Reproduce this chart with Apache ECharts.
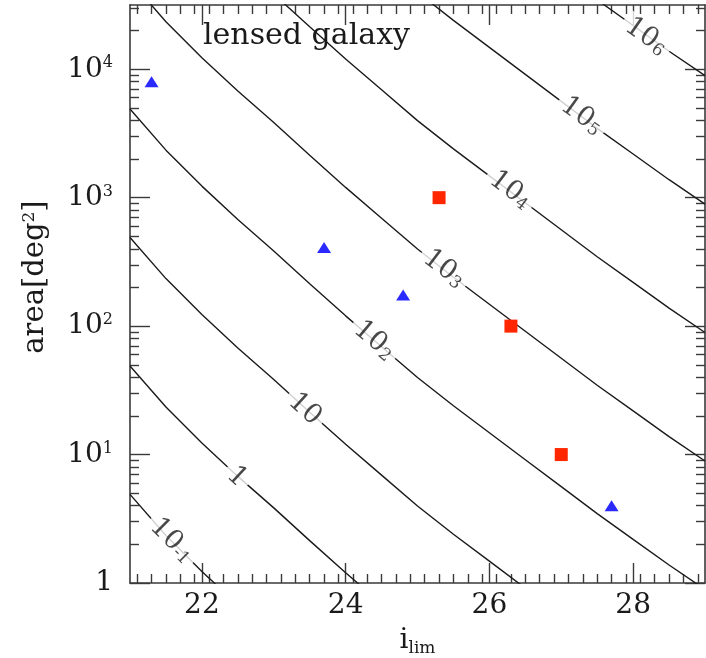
<!DOCTYPE html>
<html><head><meta charset="utf-8">
<script src="https://cdn.jsdelivr.net/npm/echarts@6/dist/echarts.min.js"></script>
<style>html,body{margin:0;padding:0;background:#fff}#c{width:706px;height:658px}</style>
</head><body><div id="c"></div>
<script>
// ---- data ----
const iLimGrid = [21, 21.5, 22, 22.5, 23, 23.5, 24, 24.5, 25, 25.5, 26, 26.5, 27, 27.5, 28, 28.5, 29];
// area [deg^2] along each contour of constant number of lensed galaxies
const contour_1e_1 = [4.898, 2.344, 1.230, 0.6761, 0.3846, 0.2138, 0.1202, 0.06918, 0.03981, 0.02399, 0.01479, 0.00912, 0.005623, 0.003467, 0.002188, 0.00138, 0.0008913];
const contour_1e0 = [48.98, 23.44, 12.30, 6.761, 3.846, 2.138, 1.202, 0.6918, 0.3981, 0.2399, 0.1479, 0.0912, 0.05623, 0.03467, 0.02188, 0.0138, 0.008913];
const contour_1e1 = [489.8, 234.4, 123.0, 67.61, 38.46, 21.38, 12.02, 6.918, 3.981, 2.399, 1.479, 0.912, 0.5623, 0.3467, 0.2188, 0.138, 0.08913];
const contour_1e2 = [4898, 2344, 1230, 676.1, 384.6, 213.8, 120.2, 69.18, 39.81, 23.99, 14.79, 9.12, 5.623, 3.467, 2.188, 1.38, 0.8913];
const contour_1e3 = [48980, 23440, 12300, 6761, 3846, 2138, 1202, 691.8, 398.1, 239.9, 147.9, 91.2, 56.23, 34.67, 21.88, 13.8, 8.913];
const contour_1e4 = [489800, 234400, 123000, 67610, 38460, 21380, 12020, 6918, 3981, 2399, 1479, 912, 562.3, 346.7, 218.8, 138, 89.13];
const contour_1e5 = [4898000, 2344000, 1230000, 676100, 384600, 213800, 120200, 69180, 39810, 23990, 14790, 9120, 5623, 3467, 2188, 1380, 891.3];
const contour_1e6 = [48980000, 23440000, 12300000, 6761000, 3846000, 2138000, 1202000, 691800, 398100, 239900, 147900, 91200, 56230, 34670, 21880, 13800, 8913];
const contourLevelText = ['{b|10}{s|-1}', '{b|1}', '{b|10}', '{b|10}{s|2}', '{b|10}{s|3}', '{b|10}{s|4}', '{b|10}{s|5}', '{b|10}{s|6}'];
// where each contour label sits (on its curve)
const labelILim = [21.585, 22.485, 23.43, 24.40, 25.37, 26.29, 27.285, 28.18];
const labelArea = [2.14, 6.7, 22.5, 77.3, 280, 1150, 4330, 18000];
// survey points
const triangleILim = [21.3, 23.7, 24.8, 27.7];
const triangleArea = [8000, 410, 175, 4];
const squareILim = [25.3, 26.3, 27.0];
const squareArea = [1000, 100, 10];
// axis ticks
const xMajorTicks = [22, 24, 26, 28];
const yMajorExp = [0, 1, 2, 3, 4];

// ---- styles ----
const FONT = 'DejaVu Serif';
const AX = '#3a3a3a';
const TXT = '#1a1a1a';
const labelRotation = [-45, -43, -42, -40, -37, -37, -36, -35];

const xMinorTicks = [];
for (let k = 211; k < 290; k += 2) { xMinorTicks.push(k / 10); }
const yMinorTicks = [];
for (let d = 0; d <= 4; d++) for (let m = 2; m <= 9; m++) { const v = d + Math.log10(m); if (v <= 4.5) yMinorTicks.push(v); }

const contours = [contour_1e_1, contour_1e0, contour_1e1, contour_1e2, contour_1e3, contour_1e4, contour_1e5, contour_1e6];

const tickLine = { color: AX, width: 1.4 };
function xAx(pos, ticks, len, labels) {
  return {
    type: 'value', min: 21, max: 29, position: pos, offset: 0,
    axisLine: { show: false, onZero: false },
    axisTick: { show: true, inside: true, length: len, customValues: ticks, lineStyle: tickLine },
    axisLabel: labels ? { show: true, customValues: ticks, margin: 9, fontFamily: FONT, fontSize: 28, color: TXT } : { show: false },
    splitLine: { show: false }
  };
}
function yAx(pos, ticks, len, labels) {
  return {
    type: 'value', min: 0, max: 4.5, position: pos, offset: 0,
    axisLine: { show: false, onZero: false },
    axisTick: { show: true, inside: true, length: len, customValues: ticks, lineStyle: tickLine },
    axisLabel: labels ? {
      show: true, customValues: ticks, margin: 17,
      formatter: function (v) { const e = Math.round(v); return e === 0 ? '{b|1}' : '{b|10}{e|' + e + '}'; },
      rich: { b: { fontFamily: FONT, fontSize: 28, color: TXT }, e: { fontFamily: FONT, fontSize: 16, color: TXT, verticalAlign: 'top', padding: [0, 0, 12, 0] } }
    } : { show: false },
    splitLine: { show: false }
  };
}

const series = [];
contours.forEach(function (arr) {
  series.push({
    type: 'line', xAxisIndex: 0, yAxisIndex: 0, symbol: 'none', silent: true, z: 2,
    data: iLimGrid.map(function (x, i) { return [x, arr[i]]; }),
    lineStyle: { color: '#1a1a1a', width: 1.4 }
  });
});
series.push({
  type: 'scatter', xAxisIndex: 0, yAxisIndex: 0, silent: true, z: 4, symbolSize: 1,
  itemStyle: { color: 'rgba(0,0,0,0)' },
  data: labelILim.map(function (x, i) {
    return {
      value: [x, labelArea[i]],
      label: {
        show: true, position: 'inside', rotate: labelRotation[i], formatter: contourLevelText[i],
        backgroundColor: '#fff', padding: [0, 5],
        rich: { b: { fontFamily: FONT, fontSize: 27, color: TXT }, s: { fontFamily: FONT, fontSize: 17, color: TXT, verticalAlign: 'bottom' } }
      }
    };
  })
});
series.push({
  type: 'scatter', xAxisIndex: 0, yAxisIndex: 0, silent: true, z: 5,
  symbol: 'triangle', symbolSize: [14, 11],
  itemStyle: { color: '#2a2aff', opacity: 1 },
  data: triangleILim.map(function (x, i) { return [x, triangleArea[i]]; })
});
series.push({
  type: 'scatter', xAxisIndex: 0, yAxisIndex: 0, silent: true, z: 5,
  symbol: 'rect', symbolSize: 13,
  itemStyle: { color: '#ff2600', opacity: 1 },
  data: squareILim.map(function (x, i) { return [x, squareArea[i]]; })
});

const chart = echarts.init(document.getElementById('c'), null, { renderer: 'canvas' });
chart.setOption({
  animation: false,
  backgroundColor: '#fff',
  grid: { left: 130, right: 1, top: 5, bottom: 75, containLabel: false, outerBoundsMode: 'none' },
  xAxis: [
    {
      type: 'value', min: 21, max: 29, position: 'bottom', offset: 0,
      axisLine: { show: true, onZero: false, lineStyle: { color: AX, width: 1.6 } },
      axisTick: { show: false }, axisLabel: { show: false }, splitLine: { show: false },
      name: '{i|i}{s|lim}', nameLocation: 'middle', nameGap: 42,
      nameTextStyle: { rich: { i: { fontFamily: FONT, fontSize: 28, color: TXT }, s: { fontFamily: FONT, fontSize: 17, color: TXT, verticalAlign: 'bottom', padding: [15, 0, 0, 0] } } }
    },
    xAx('bottom', xMajorTicks, 20, true),
    xAx('bottom', xMinorTicks, 9, false),
    Object.assign(xAx('top', xMajorTicks, 20, false), { axisLine: { show: true, onZero: false, lineStyle: { color: AX, width: 1.6 } } }),
    xAx('top', xMinorTicks, 9, false)
  ],
  yAxis: [
    {
      type: 'log', logBase: 10, min: 1, max: 31622.78, position: 'left', offset: 0,
      axisLine: { show: true, onZero: false, lineStyle: { color: AX, width: 1.6 } },
      axisTick: { show: false }, axisLabel: { show: false }, splitLine: { show: false },
      name: '{n|area[deg}{e|2}{n|]}', nameLocation: 'middle', nameGap: 80,
      nameTextStyle: { padding: [0, 0, 0, 34], rich: { n: { fontFamily: FONT, fontSize: 29, color: TXT }, e: { fontFamily: FONT, fontSize: 17, color: TXT, verticalAlign: 'top' } } }
    },
    yAx('left', yMajorExp, 20, true),
    yAx('left', yMinorTicks, 9, false),
    Object.assign(yAx('right', yMajorExp, 20, false), { axisLine: { show: true, onZero: false, lineStyle: { color: AX, width: 1.6 } } }),
    yAx('right', yMinorTicks, 9, false)
  ],
  graphic: [{
    type: 'text', left: 203, top: 21, silent: true,
    style: { text: 'lensed galaxy', fontFamily: FONT, fontSize: 30, fill: TXT }
  }],
  series: series
});
</script></body></html>
